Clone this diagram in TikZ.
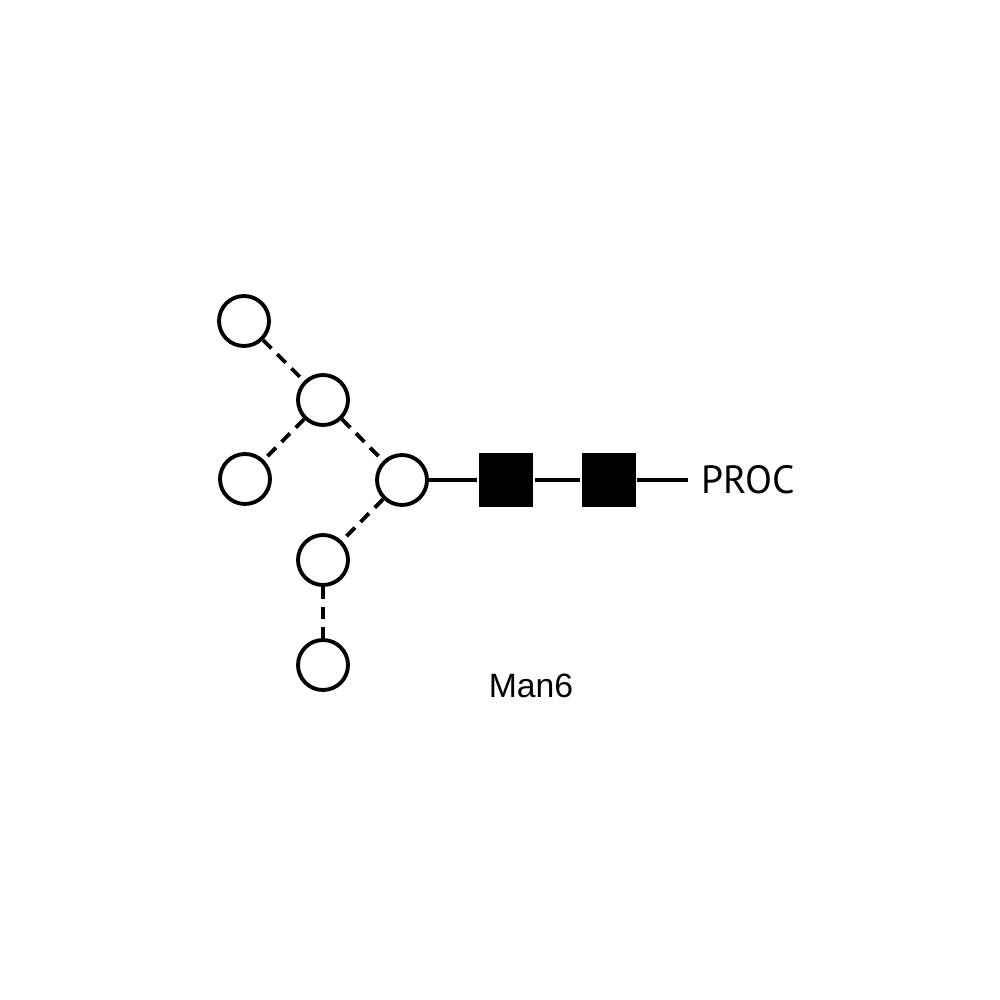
\documentclass[tikz,border=0pt]{standalone}
\usepackage{fontspec}
\setmainfont{Liberation Sans}
\newfontfamily\procfont{PT Sans}
\usetikzlibrary{positioning}

\begin{document}
\begin{tikzpicture}[line width=1.1pt, node distance=8mm, on grid,
  man/.style={draw, circle, fill=white, inner sep=0pt, minimum size=5mm},
  glc/.style={fill=black, inner sep=0pt, minimum size=5.4mm},
  link/.style={dash pattern=on 3.4pt off 2.3pt}]
\useasboundingbox (0,0) rectangle (10,-10);
\node[man] (core) at (4.02,-4.80) {};
\node[man, above left=8mm and 7.9mm of core] (mid) {};
\node[man, above left=7.9mm and 7.9mm of mid] (top) {};
\node[man, below left=7.9mm and 7.8mm of mid] (left) {};
\node[man, below left=8mm and 7.9mm of core] (low) {};
\node[man, below=10.5mm of low] (bottom) {};
\node[glc, right=10.4mm of core] (nag1) {};
\node[glc, right=10.25mm of nag1] (nag2) {};
\coordinate[right=7.95mm of nag2] (tail);
\node[anchor=west, font=\procfont\fontsize{11.2}{13}\selectfont, inner sep=0pt, right=1.2mm of tail] (proc) {PROC};
\node[font=\fontsize{9.6}{11}\selectfont] (name) at (5.31,-6.86) {Man6};
\draw[link] (top) -- (mid);
\draw[link] (mid) -- (left);
\draw[link] (mid) -- (core);
\draw[link] (core) -- (low);
\draw[link] (low) -- (bottom);
\draw (core) -- (nag1) -- (nag2) -- (tail);
\end{tikzpicture}
\end{document}
